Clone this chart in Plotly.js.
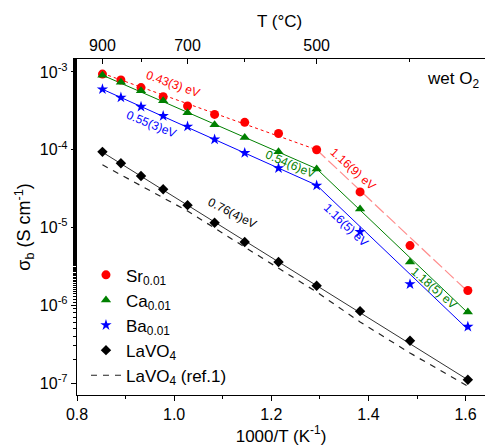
<!DOCTYPE html>
<html>
<head>
<meta charset="utf-8">
<script src="https://cdn.plot.ly/plotly-3.0.1.min.js"></script>
<style>html,body{margin:0;padding:0;background:#fff;}#chart{width:485px;height:446px;}</style>
</head>
<body>
<div id="chart"></div>
<script>
// 1000/T (K^-1) for T = 900,850,...,350 °C
const xInvT = [0.8524, 0.8904, 0.9318, 0.9774, 1.0276, 1.0833, 1.1453, 1.2149, 1.2934, 1.3828, 1.4856, 1.6047];
const srVals = [9.4e-4, 7.9e-4, 6.3e-4, 4.8e-4, 3.65e-4, 2.85e-4, 2.25e-4, 1.62e-4, 1.0e-4, 2.87e-5, 5.85e-6, 1.55e-6];
const caVals = [9.1e-4, 7.4e-4, 5.75e-4, 4.27e-4, 3.0e-4, 2.1e-4, 1.44e-4, 9.4e-5, 5.65e-5, 1.73e-5, 3.6e-6, 8.2e-7];
const baVals = [6.0e-4, 4.7e-4, 3.58e-4, 2.72e-4, 1.99e-4, 1.36e-4, 9.1e-5, 5.8e-5, 3.47e-5, 8.8e-6, 1.87e-6, 5.3e-7];
const laVals = [9.4e-5, 6.7e-5, 4.6e-5, 3.1e-5, 1.94e-5, 1.15e-5, 6.5e-6, 3.6e-6, 1.78e-6, 8.4e-7, 3.5e-7, 1.1e-7];

// literature LaVO4 (ref.1), dashed
const refX = [0.8524, 1.0276, 1.1453, 1.2934, 1.3828, 1.4856, 1.6047];
const refVals = [6.4e-5, 1.63e-5, 5.6e-6, 1.48e-6, 6.1e-7, 2.43e-7, 9.1e-8];

// Arrhenius fit segments (endpoints)
const fitHighX = [0.8524, 1.2934];
const fitLowX = [1.2934, 1.6047];
const fitAllX = [0.8524, 1.6047];
const srFitHigh = [9.6e-4, 1.0e-4];
const srFitLow = [1.0e-4, 1.5e-6];
const caFitHigh = [9.1e-4, 5.7e-5];
const caFitLow = [5.7e-5, 8.0e-7];
const baFitHigh = [6.0e-4, 3.5e-5];
const baFitLow = [3.5e-5, 4.9e-7];
const laFit = [9.3e-5, 1.1e-7];

// activation energy labels
const eaLabels = ['0.43(3) eV', '0.55(3)eV', '0.54(6)eV', '0.76(4)eV', '1.16(9) eV', '1.16(5) eV', '1.18(5) eV'];

// tick labels
const yTickVals = [1e-7, 1e-6, 1e-5, 1e-4, 1e-3];
const yTickText = ['10<sup>-7</sup>', '10<sup>-6</sup>', '10<sup>-5</sup>', '10<sup>-4</sup>', '10<sup>-3</sup>'];
const topMajorC = [900, 700, 500];
const topMinorC = [800, 600, 400];

const seriesNames = ['Sr<sub>0.01</sub>', 'Ca<sub>0.01</sub>', 'Ba<sub>0.01</sub>', 'LaVO<sub>4</sub>', 'LaVO<sub>4</sub> (ref.1)'];

const toInv = c => 1000 / (c + 273.15);
const FONT = 'Liberation Sans, Arial, sans-serif';

const RED = '#ff0000', GREEN = '#008000', BLUE = '#0000ff', BLACK = '#000000';

const traces = [
  {x: xInvT, y: srVals, name: seriesNames[0], mode: 'markers', type: 'scatter',
   marker: {symbol: 'circle', size: 9, color: RED}},
  {x: xInvT, y: caVals, name: seriesNames[1], mode: 'markers', type: 'scatter',
   marker: {symbol: 'triangle-up', size: 9, color: GREEN}},
  {x: xInvT, y: baVals, name: seriesNames[2], mode: 'markers', type: 'scatter',
   marker: {symbol: 'star', size: 8.5, color: BLUE}},
  {x: xInvT, y: laVals, name: seriesNames[3], mode: 'markers', type: 'scatter',
   marker: {symbol: 'diamond', size: 8, color: BLACK}},
  {x: refX, y: refVals, name: seriesNames[4], mode: 'lines', type: 'scatter',
   line: {color: '#222', width: 1.2, dash: '6px,6px'}},
  // fit lines
  {x: fitHighX, y: srFitHigh, mode: 'lines', showlegend: false, line: {color: RED, width: 1, dash: 'dot'}},
  {x: fitLowX, y: srFitLow, mode: 'lines', showlegend: false, line: {color: '#ff8c8c', width: 1.2, dash: '12px,4px'}},
  {x: fitHighX, y: caFitHigh, mode: 'lines', showlegend: false, line: {color: GREEN, width: 1}},
  {x: fitLowX, y: caFitLow, mode: 'lines', showlegend: false, line: {color: GREEN, width: 1}},
  {x: fitHighX, y: baFitHigh, mode: 'lines', showlegend: false, line: {color: BLUE, width: 1}},
  {x: fitLowX, y: baFitLow, mode: 'lines', showlegend: false, line: {color: BLUE, width: 1}},
  {x: fitAllX, y: laFit, mode: 'lines', showlegend: false, line: {color: '#333', width: 1}},
  // dummy for top axis
  {x: [xInvT[0]], y: [srVals[0]], xaxis: 'x2', mode: 'markers', showlegend: false,
   marker: {opacity: 0}, hoverinfo: 'skip'}
];

// reorder so lines are drawn below markers
const ordered = traces.slice(5, 12).concat(traces.slice(0, 5)).concat(traces.slice(12));

const L = 77, R = 485, T = 59, B = 395;
const px = v => (v - L) / (R - L);
const py = v => (B - v) / (B - T);

function lab(text, cx, cy, ang, color) {
  return {text: text, xref: 'paper', yref: 'paper', x: px(cx), y: py(cy),
          xanchor: 'center', yanchor: 'middle', showarrow: false, textangle: ang,
          font: {family: FONT, size: 12, color: color}};
}

const layout = {
  width: 485, height: 446,
  margin: {l: L, r: 0, t: T, b: 446 - B},
  paper_bgcolor: '#fff', plot_bgcolor: '#fff',
  font: {family: FONT, size: 16, color: '#000'},
  showlegend: true,
  legend: {x: 0.022, y: 0.005, xanchor: 'left', yanchor: 'bottom',
           bgcolor: 'rgba(0,0,0,0)', font: {family: FONT, size: 17},
           tracegroupgap: 0, itemwidth: 30},
  xaxis: {range: [0.8, 1.64], tick0: 0.8, dtick: 0.2, tickformat: '.1f',
          ticks: 'outside', ticklen: 5, tickwidth: 1, tickcolor: '#000',
          minor: {dtick: 0.1, tick0: 0.8, ticks: 'outside', ticklen: 3, tickcolor: '#000'},
          showline: true, linecolor: '#000', linewidth: 1.2, showgrid: false, zeroline: false,
          tickfont: {size: 16},
          title: {text: '1000/T (K<sup>-1</sup>)', font: {size: 17}, standoff: 6}},
  xaxis2: {overlaying: 'x', side: 'top', range: [0.8, 1.64],
           tickmode: 'array', tickvals: topMajorC.map(toInv), ticktext: topMajorC.map(String),
           ticks: 'inside', ticklen: 5, tickcolor: '#000',
           minor: {tickmode: 'array', tickvals: topMinorC.map(toInv), ticks: 'inside', ticklen: 3, tickcolor: '#000'},
           showline: true, linecolor: '#000', linewidth: 1.2, showgrid: false, zeroline: false,
           tickfont: {size: 16}},
  yaxis: {type: 'log', range: [-7.154, -2.833],
          tickmode: 'array', tickvals: yTickVals, ticktext: yTickText,
          ticks: 'outside', ticklen: 5, tickcolor: '#000',
          minor: {ticks: 'outside', ticklen: 3, tickcolor: '#000', showgrid: false},
          showline: true, linecolor: '#000', linewidth: 1.2, showgrid: false, zeroline: false,
          tickfont: {size: 16},
          title: {text: 'σ<sub>b</sub> (S cm<sup>-1</sup>)', font: {size: 18}, standoff: 4}},
  annotations: [
    {text: 'T (°C)', xref: 'paper', yref: 'paper', x: px(279), y: py(22),
     xanchor: 'center', yanchor: 'middle', showarrow: false,
     font: {family: FONT, size: 17, color: '#000'}},
    lab(eaLabels[0], 173, 84, 20, RED),
    lab(eaLabels[1], 151, 124, 22, BLUE),
    lab(eaLabels[2], 290, 164, 23, GREEN),
    lab(eaLabels[3], 232, 213, 27, BLACK),
    lab(eaLabels[4], 353, 169, 42, RED),
    lab(eaLabels[5], 346, 225, 44, BLUE),
    lab(eaLabels[6], 434, 288, 41, GREEN),
    {text: 'wet O<sub>2</sub>', xref: 'paper', yref: 'paper', x: px(481), y: py(80),
     xanchor: 'right', yanchor: 'middle', showarrow: false,
     font: {family: FONT, size: 17, color: '#000'}}
  ]
};

Plotly.newPlot('chart', ordered, layout, {staticPlot: true, displayModeBar: false});
</script>
</body>
</html>
